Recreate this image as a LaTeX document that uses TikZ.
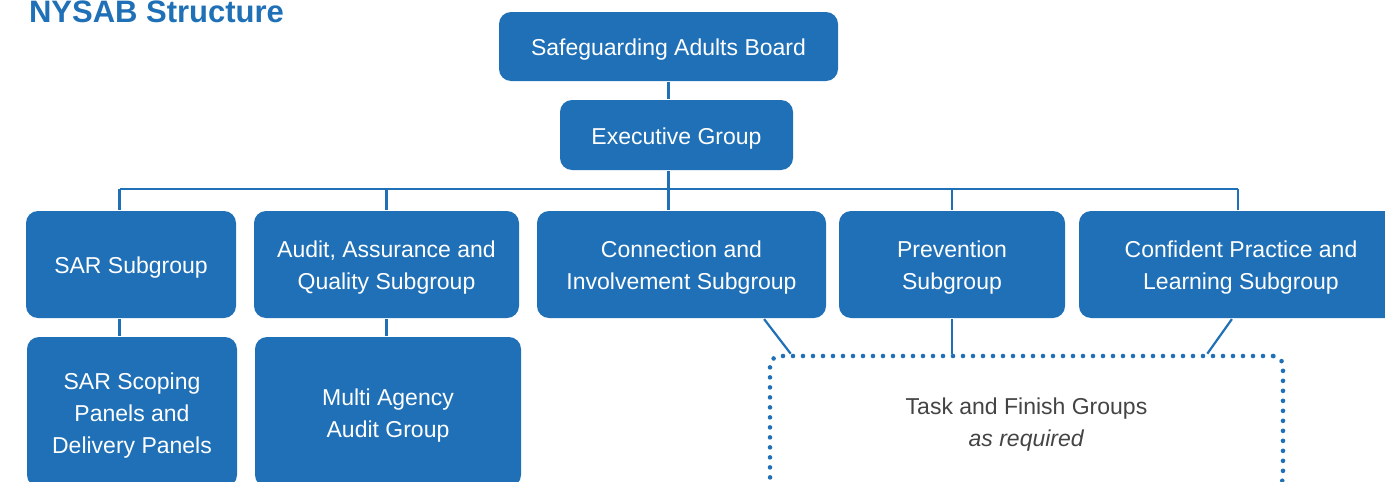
\documentclass[tikz,border=0pt]{standalone}
\usepackage{fontspec}
\setmainfont{Liberation Sans}
\usetikzlibrary{positioning}
\definecolor{nyblue}{RGB}{31,112,183}
\definecolor{taskgrey}{RGB}{68,68,68}
\newcommand{\topstrut}{\rule{0pt}{23pt}}

\begin{document}
\begin{tikzpicture}[x=1pt,y=-1pt,line width=2.2pt,
    box/.style={rectangle,rounded corners=12pt,fill=nyblue,text=white,align=center,
      font=\fontsize{23}{32}\selectfont,inner sep=0pt},
    taskbox/.style={rectangle,rounded corners=10pt,draw=nyblue,line width=4.6pt,
      dash pattern=on 0pt off 10pt,line cap=round,text=taskgrey,align=center,
      font=\fontsize{23}{32}\selectfont,inner sep=0pt},
    link/.style={draw=nyblue}]
    \useasboundingbox (0,0) rectangle (1385,482);
    \clip (0,0) rectangle (1385,482);
    \node[anchor=base west,inner sep=0pt,text=nyblue,
      font=\fontsize{31}{36}\selectfont\bfseries] (title) at (28,22) {NYSAB Structure};
    % top of the tree
    \node[box,minimum width=339pt,minimum height=69pt] (board) at (668.5,46.5) {\topstrut Safeguarding Adults Board};
    \node[box,minimum width=233pt,minimum height=70pt] (exec) at (676.5,135) {\topstrut Executive Group};
    % subgroups
    \node[box,minimum width=210pt,minimum height=107pt] (sar) at (131,264.5) {\topstrut SAR Subgroup};
    \node[box,minimum width=265pt,minimum height=107pt] (audit) at (386.5,264.5) {\topstrut Audit, Assurance and\\Quality Subgroup};
    \node[box,minimum width=289pt,minimum height=107pt] (conn) at (681.5,264.5) {\topstrut Connection and\\Involvement Subgroup};
    \node[box,minimum width=226pt,minimum height=107pt] (prev) at (952,264.5) {\topstrut Prevention\\Subgroup};
    \node[box,minimum width=324pt,minimum height=107pt] (conf) at (1241,264.5) {\topstrut Confident Practice and\\Learning Subgroup};
    % groups below
    \node[box,minimum width=210pt,minimum height=150pt] (scoping) at (132,412) {\topstrut SAR Scoping\\Panels and\\Delivery Panels};
    \node[box,minimum width=266pt,minimum height=150pt] (multi) at (388,412) {\topstrut Multi Agency\\Audit Group};
    \node[taskbox,minimum width=513pt,minimum height=131pt] (task) at (1026.5,421.5) {\topstrut Task and Finish Groups\\\textit{as required}};
    % connectors
    \coordinate (busL) at (119.5,189);
    \coordinate (busR) at (1238,189);
    \draw[link] (board.south) -- (board.south |- exec.north);
    \draw[link] (board.south |- exec.south) -- (board.south |- busL);
    \draw[link] (busL) -- (busR);
    \draw[link] (busL) -- (busL |- sar.north);
    \draw[link] (audit.north |- busL) -- (audit.north);
    \draw[link] (board.south |- busL) -- (board.south |- conn.north);
    \draw[link] (prev.north |- busL) -- (prev.north);
    \draw[link] (busR) -- (busR |- conf.north);
    \draw[link] (busL |- sar.south) -- (busL |- scoping.north);
    \draw[link] (audit.south) -- (audit.south |- multi.north);
    \draw[link] ([xshift=-63pt]conn.south east) -- ([xshift=23pt]task.north west);
    \draw[link] (prev.south) -- (prev.south |- task.north);
    \draw[link] ([xshift=154pt]conf.south west) -- ([xshift=-78pt]task.north east);
\end{tikzpicture}
\end{document}
